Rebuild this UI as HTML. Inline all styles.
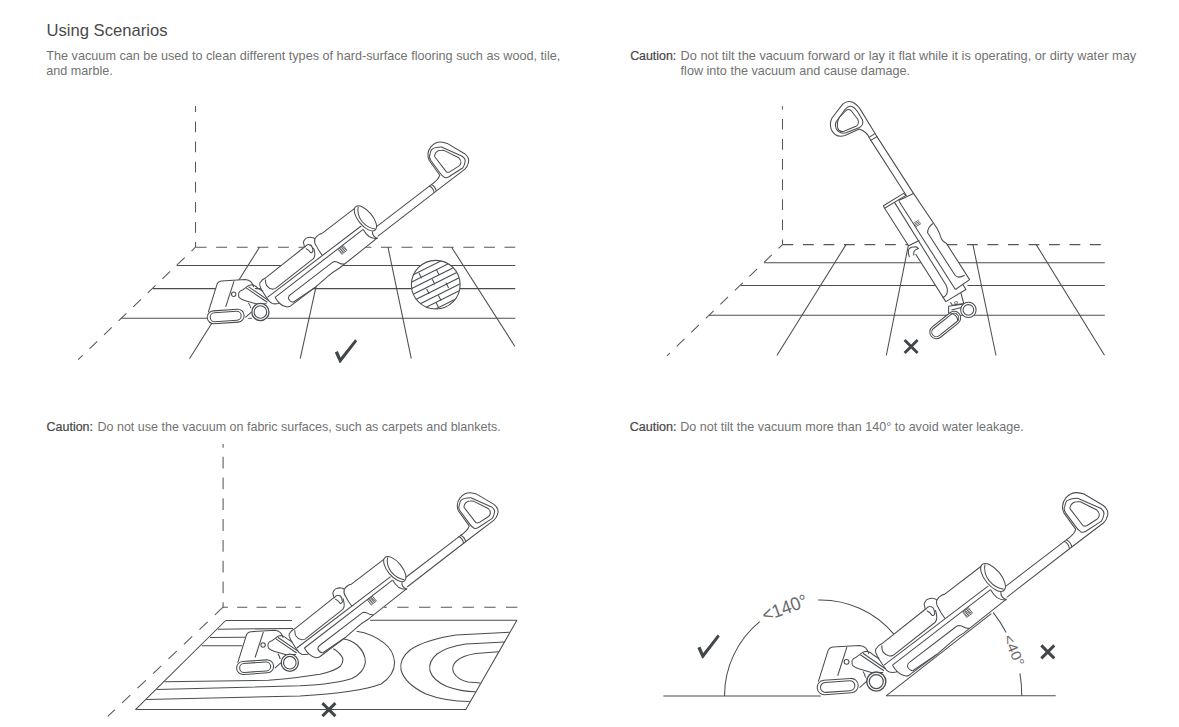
<!DOCTYPE html>
<html><head><meta charset="utf-8"><style>
html,body{margin:0;padding:0;background:#fff;}
svg{display:block;}
text{font-family:"Liberation Sans",sans-serif;}
.t{fill:#4a4a4a;font-size:17px;}
.p{fill:#727272;font-size:12.6px;}
.c{fill:#484848;stroke:#484848;stroke-width:0.22px;font-size:12.5px;}
.a{fill:#6a6a6a;font-size:17px;}
</style></head><body>
<svg width="1179" height="727" viewBox="0 0 1179 727">
<rect width="1179" height="727" fill="#fff"/>
<text class="t" x="46.5" y="36.2" textLength="121" lengthAdjust="spacingAndGlyphs">Using Scenarios</text>
<text class="p" x="46.3" y="59.6" textLength="514" lengthAdjust="spacingAndGlyphs">The vacuum can be used to clean different types of hard-surface flooring such as wood, tile,</text>
<text class="p" x="46.3" y="74.9">and marble.</text>
<text class="c" x="630.2" y="59.6" textLength="46" lengthAdjust="spacingAndGlyphs">Caution:</text>
<text class="p" x="680.6" y="59.6" textLength="455.6" lengthAdjust="spacingAndGlyphs">Do not tilt the vacuum forward or lay it flat while it is operating, or dirty water may</text>
<text class="p" x="680.6" y="74.9" textLength="229.4" lengthAdjust="spacingAndGlyphs">flow into the vacuum and cause damage.</text>
<text class="c" x="46.6" y="431" textLength="46.4" lengthAdjust="spacingAndGlyphs">Caution:</text>
<text class="p" x="97.5" y="431" textLength="403.2" lengthAdjust="spacingAndGlyphs">Do not use the vacuum on fabric surfaces, such as carpets and blankets.</text>
<text class="c" x="629.8" y="431" textLength="46.7" lengthAdjust="spacingAndGlyphs">Caution:</text>
<text class="p" x="680.3" y="431" textLength="343.5" lengthAdjust="spacingAndGlyphs">Do not tilt the vacuum more than 140° to avoid water leakage.</text>
<g fill="none" stroke="#4a4d50" stroke-width="1.05" stroke-linecap="butt" stroke-linejoin="round">
<line x1="195.50" y1="247.20" x2="195.50" y2="106.00" stroke="#55595c" stroke-dasharray="10.7 9.4" stroke-dashoffset="5.6"/>
<line x1="195.50" y1="247.20" x2="515.20" y2="247.20" stroke="#55595c" stroke-dasharray="11 9.6" stroke-dashoffset="0"/>
<line x1="195.50" y1="247.20" x2="78.20" y2="359.60" stroke="#55595c" stroke-dasharray="10.8 9.4" stroke-dashoffset="5.3"/>
<line x1="176.60" y1="265.50" x2="515.20" y2="265.50" />
<line x1="152.90" y1="288.60" x2="515.20" y2="288.60" />
<line x1="121.50" y1="318.30" x2="515.20" y2="318.30" />
<line x1="259.50" y1="247.20" x2="189.50" y2="358.70" />
<line x1="324.70" y1="247.20" x2="300.20" y2="358.70" />
<line x1="388.00" y1="247.20" x2="411.30" y2="358.70" />
<line x1="451.60" y1="247.20" x2="514.90" y2="346.50" />
<circle cx="435.75" cy="284.7" r="24.35" fill="#fff"/>
<clipPath id="bc"><circle cx="435.75" cy="284.7" r="24.35"/></clipPath>
<path clip-path="url(#bc)" d="M400,281.40 L470,246.40 M400,287.89 L470,252.89 M400,294.38 L470,259.38 M400,300.87 L470,265.87 M400,307.36 L470,272.36 M400,313.85 L470,278.85 M400,320.34 L470,285.34 M400,326.83 L470,291.83 M419.00,273.01 L421.60,278.19 M436.50,269.71 L439.10,274.89 M432.30,279.31 L434.90,284.49 M426.60,288.91 L429.20,294.09 M446.00,282.81 L448.60,287.99 M438.50,295.61 L441.10,300.79 M436.20,302.71 L438.80,307.89"/>
<g id="vac">
<path d="M430.7,185.1 Q438.5,180 439.8,175.2 L429.1,160.3 Q426,153 430.7,147.1 Q435,142 440.6,142.1 Q444,142.3 447.2,143.4 L464.6,153.7 Q469.5,157.5 468.5,162.5 Q467.5,167 464.6,169.4 L436.5,190.8 L377.7,236.3 L370,244.6 L289.4,306.3 L286.8,307.1 L282,303.9 L279.8,303.5 L266.9,302 L262,292 L259.8,285.6 L260.5,282.2 L265.3,278.1 L304.5,247 L303.4,242.2 Q306,237.5 312,237.4 L314.8,238.8 L318.9,234.6 L321.7,233.6 L355,208.1 Q360,204 365,207 L376,225 L377,227.3 L430.7,185.1 Z" fill="#fff" stroke="none"/>
<path d="M208.3,312.1 L216.6,285.6 Q217.5,281.5 221.5,281 L245.4,279.5 Q252,280 253.7,287.1 L266.6,303.8 L269.5,312 Q269.5,321.5 260.5,321.2 Q252,321 250.5,316 L244,322.5 Q226,324.5 210,322.5 Q205,318 208.3,312.1 Z" fill="#fff" stroke="none"/>

<!-- handle -->
<path d="M430.7,185.1 Q438.5,180 439.8,175.2 L429.1,160.3 Q426,153 430.7,147.1 Q435,142 440.6,142.1 Q444,142.3 447.2,143.4 L464.6,153.7 Q469.5,157.5 468.5,162.5 Q467.5,167 464.6,169.4 L436.5,190.8"/>
<path d="M431.6,149.6 Q435,147 441.5,147.1 L462.1,156.2 Q466,159 465,162 Q464.5,165.5 462.9,167.7 L448.9,176.8 Q446.5,178.2 444.8,177.6 Q442,176 439.8,172.7 L430.7,160.3 Q428.5,157 429.9,154.5 Q430.5,151 431.6,149.6 Z"/>
<path d="M434.9,154.5 Q436.5,150.4 441,150.3 Q443,150.2 443.9,150.4 L458.8,157.8 Q461.5,160.5 460.9,162.8 Q460.3,165 458.8,166.1 L449.7,171.9 Q448,172.6 446.4,171.9 L434.9,157 Q434.3,155.5 434.9,154.5 Z"/>
<path d="M429.1,185.9 Q433.5,187.5 434.2,193"/>
<path d="M431.2,184.6 Q435.5,186.5 436.3,191.2"/>
<!-- pole -->
<path d="M430.7,185.1 L375.6,227.3"/>
<path d="M436.5,190.8 L377.7,236.3"/>
<!-- tank -->
<path d="M304.5,247 L303.4,242.2 Q305,238 307.2,237.7 Q310,236.8 312,237.4 Q314,237.8 314.8,238.8 Q316.5,236 318.9,234.6 Q320.5,233.6 321.7,233.6 L355,208.1"/>
<path d="M304.5,247.5 Q306.5,244.5 308.6,244.6 Q311.5,244.6 312.3,247.5 Q312.8,250 313,251 Q312,253.2 310.6,252.5 Q308.5,249.5 305.8,248.4"/>
<path d="M314.8,238.8 Q314,243 316.2,245.6 Q318.5,250.5 322.3,255.3"/>
<ellipse cx="365.4" cy="218.4" rx="15.2" ry="7.1" transform="rotate(50.4 365.4 218.4)" fill="#fff"/>
<path d="M358.2,206.6 Q356.5,214 362,221.5 Q367.5,228 375,229"/>
<path d="M372.5,231.5 Q372,236 377.3,238.5"/>
<path d="M363.2,229.4 Q365.5,233.5 369,236.5 Q373,239 377.3,238.5"/>
<!-- body -->
<path d="M259.8,285.6 Q259.5,282.5 260.5,282.2 Q262,279.5 265.3,278.1 L304.5,247"/>
<path d="M265.3,279.5 Q265.5,284 266.7,285.6 Q269,288.7 272.2,289.1 Q274,289.2 275.6,288.4 L313.4,258.7 Q315.2,256 314.8,253.5 Q314.3,249 313.4,247.7"/>
<path d="M267.4,297.3 L361.2,226"/>
<path d="M275,297.3 L363.2,229.4"/>
<path d="M259.8,285.6 Q261,289 263.3,292.5 Q265,295.5 267.4,298.7 Q269.5,302.5 272.2,303.5 Q275,304.2 278.4,303.5 Q278.8,302.8 279.1,302.5"/>
<path d="M275,297.3 Q277,301 279.8,303.5 Q283,306.5 286.8,307.1 Q288.5,307 290,306.3 L315.5,287.1 L327.5,276.7 Q332,272.5 339.5,268 L377.7,237.7"/>
<path d="M293.2,302.3 Q289.5,301.5 288.4,298.3 Q288.5,295.5 290.8,294.3 L331.5,263.2 Q333,261.6 334.7,261.6 Q337,261.7 339.5,263.2 Q341,264.2 344,264"/>
<path d="M293.2,302.3 L315.5,287.1"/>
<!-- grille -->
<g stroke-width="0.75"><path d="M338.30,249.65 L343.37,245.75 M339.18,250.80 L344.25,246.90 M340.06,251.95 L345.14,248.05 M340.95,253.10 L346.02,249.20 M341.83,254.25 L346.90,250.35 M338.11,249.41 L342.01,254.49 M339.80,248.11 L343.70,253.19 M341.50,246.81 L345.40,251.89 M343.19,245.51 L347.09,250.59"/></g>
<!-- head -->
<path d="M208.3,312.1 L216.6,285.6 Q217.5,281.5 221.5,281 L245.4,279.5 Q252,280 253.7,287.1"/>
<path d="M234,281.1 L225.7,306.8"/>
<circle cx="233.7" cy="294.3" r="2.2"/>
<path d="M238.6,293.2 Q238.5,297 239.3,297.7 Q242,300 245.4,300.7 L256,303.8 L266.6,303.8"/>
<path d="M238.6,293.2 Q239.5,291 242.4,290.1 L248.4,285.6 Q250,284.8 252.2,284.8 Q255,285.5 257.5,287.9 L263,291.5"/>
<path d="M246.1,287.9 L267.3,302.3 M248.4,286.6 L268.9,300.7"/>
<path d="M248.4,303 Q250.5,305.5 250.7,308.3"/>
<path d="M245.4,317.4 L251.4,312.1"/>
<rect x="207.2" y="310" width="37" height="13" rx="6.5" transform="rotate(-4 225.7 316.5)" fill="#fff"/>
<rect x="210.2" y="312" width="31" height="9" rx="4.5" transform="rotate(-4 225.7 316.5)"/>
<circle cx="260.4" cy="312.0" r="8.6" fill="#fff" stroke-width="1.3"/>
<circle cx="260.4" cy="312.0" r="6.3" stroke-width="1.1"/>
</g>
<polygon points="334.80,352.60 337.80,351.00 340.60,357.60 355.10,339.20 357.20,341.20 340.40,363.00 339.60,363.00" fill="#40474b" stroke="none"/>
<line x1="782.50" y1="244.60" x2="782.50" y2="106.30" stroke="#55595c" stroke-dasharray="10.7 9.4" stroke-dashoffset="5.6"/>
<line x1="782.50" y1="244.60" x2="1104.80" y2="244.60" stroke="#55595c" stroke-dasharray="10.8 9.7" stroke-dashoffset="0"/>
<line x1="782.50" y1="244.60" x2="666.90" y2="355.90" stroke="#55595c" stroke-dasharray="10.8 9.4" stroke-dashoffset="5.3"/>
<line x1="764.10" y1="262.80" x2="1104.80" y2="262.80" />
<line x1="740.80" y1="285.50" x2="1104.80" y2="285.50" />
<line x1="708.80" y1="315.30" x2="1104.80" y2="315.30" />
<line x1="846.00" y1="244.60" x2="776.90" y2="355.50" />
<line x1="908.50" y1="244.60" x2="886.30" y2="355.50" />
<line x1="972.90" y1="244.60" x2="996.00" y2="355.50" />
<line x1="1036.20" y1="244.60" x2="1104.50" y2="355.30" />

<path d="M869.9,138.9 Q867.5,132 859.3,129 L845,135.5 Q836,138.5 831.5,130 Q829,124 832,118 L842.7,104.1 Q847,100.5 852,102 Q857,104 860.8,110.1 L913.5,193.4 L936.8,228 L969.6,279.6 L965.9,289.5 L945.8,301.6 L915.6,254 L908.5,245.8 L884.6,208.2 L883.4,205.7 L903.6,193.4 Z" fill="#fff" stroke="none"/>
<path d="M946,301.6 L961,292.5 L964,304 L948.6,312 Z" fill="#fff" stroke="none"/>
<path d="M869.9,138.9 Q867.5,132 859.3,129 L845,135.5 Q836,138.5 831.5,130 Q829,124 832,118 L842.7,104.1 Q847,100.5 852,102 Q857,104 860.8,110.1 L876,135.1"/>
<path d="M836,122 L845,109.5 Q848.5,105.5 852,106.5 Q855.5,108 857.8,112 L862.5,120 Q864,125 859.5,127.5 L846,132.8 Q840.5,134.5 837,130 Q834.5,126 836,122 Z"/>
<path d="M839.2,117.5 L846,110.5 Q848.7,108.5 851,110.5 L857.8,119.2 Q859.5,124 856.5,126 L844,131.3 Q839.5,132.5 837.8,128.5 Q836.5,122.5 839.2,117.5 Z"/>
<path d="M869.9,138.9 L906.5,195.8 M876,135.1 L913.5,193.4"/>
<path d="M868.6,137.6 L875.4,133.4 M870.4,140.6 L877.4,136.4"/>
<!-- body -->
<path d="M883.4,205.7 L903.6,193.4 L906,195.4 L884.6,208.2 Z"/>
<path d="M898.6,200.4 L913.5,193.4 L936.8,228 Q940,234 940.6,236.7 Q941.5,240 943.5,241.5 Q945,242.5 946.4,243.4 L969.6,279.6 L955.4,289.5"/>
<path d="M884.6,208.2 L908.5,245.8 L919.4,240.5"/>
<path d="M894.5,202.4 L946,285 Q948.5,290 946.5,294.5 Q945,297 942.5,297.5 M899,201.2 L955.4,289.5"/>
<path stroke-width="0.8" d="M913.56,223.29 L918.79,219.97 M914.31,224.47 L919.54,221.15 M915.06,225.65 L920.29,222.33 M915.81,226.84 L921.04,223.51"/>
<path d="M932.9,223.5 Q927.5,227.5 927.6,232.8 L955.1,275.2 Q958,279 964.7,275.2"/>
<path d="M915.6,254 L945.8,301.6 L965.9,289.5 L962.8,284.3"/>
<path d="M909.5,257 Q907.5,252 908.9,249 Q911,246.8 916,246.8 L918.5,248.5 Q915.5,249.5 914.3,251 Q913.3,253.5 914,255.5"/>
<path d="M950.4,302.2 L952.3,305.3 L963.7,303.5 L960.9,292.9"/>
<path d="M954.5,302.2 l2.6,-0.8 l0.6,2.1 l-2.6,0.8z" stroke-width="0.7"/>
<path d="M948.6,313 L948.6,306.3 L962.1,304.3 L963,309 M951.5,310 L961.5,307.5"/>
<rect x="927.3" y="318.4" width="35.9" height="13.2" rx="6.6" transform="rotate(-38.7 945.25 325)" fill="#fff"/>
<rect x="929.3" y="320.4" width="31.9" height="9.2" rx="4.6" transform="rotate(-38.7 945.25 325)"/>
<path d="M950.5,313.5 Q957,314 958,321"/>
<circle cx="968.4" cy="309.9" r="7.7" fill="#fff"/>
<circle cx="968.4" cy="309.9" r="5.3"/>

<path d="M904.6,340.0 L917.6,353.0 M917.6,340.0 L904.6,353.0" stroke="#40474b" stroke-width="2.9"/>
<line x1="223.10" y1="607.20" x2="223.10" y2="444.00" stroke="#55595c" stroke-dasharray="11.8 9" stroke-dashoffset="6.9"/>
<line x1="222.80" y1="607.20" x2="300.80" y2="607.20" stroke="#55595c" stroke-dasharray="10.2 9.2" stroke-dashoffset="5.1"/>
<line x1="384.00" y1="607.20" x2="517.60" y2="607.20" stroke="#55595c" stroke-dasharray="11.4 10.36" stroke-dashoffset="8.56"/>
<line x1="223.10" y1="607.20" x2="107.80" y2="716.40" stroke="#55595c" stroke-dasharray="11.3 10" stroke-dashoffset="0"/>

<path d="M225.7,620.5 L292,620.5 M370.2,620.3 L516.9,620.3 L465.8,709.4 L135.7,709.4 L225.7,620.5"/>
<path d="M217.8,629.2 L293,628.5"/>
<path d="M210,637.4 L246,637.2"/>
<path d="M201.7,645.8 L242.3,645.8"/>
<path d="M164.5,681.7 L268.5,680.3 Q300,677.5 320,674.2 Q335,671 340.5,666 Q344.5,660 341.9,656.6 Q338,651 333.2,648.8"/>
<path d="M156.7,689.4 L300,685.8 Q336,684 352,678.5 Q364,672.5 365.4,662.4 Q365.5,652.7 357,645 Q351,640 343.9,639"/>
<path d="M146.2,699.6 L300,696 Q358.5,692.5 381,684 Q394.6,675 394.6,662.4 Q393.5,650 383.9,642.9 Q372,633.5 356.6,631.2"/>
<path d="M509.7,632.2 L456.1,635.1 Q426,639.5 410,650 Q399,659 401,670 Q405,684 426,694 Q445,701.4 469.7,701.4"/>
<path d="M504.8,642 L465.8,643.9 Q446,647 437,654 Q428,661.5 430,671 Q433,680.5 447,686.5 Q461,691.7 475.6,691.7"/>
<path d="M499,651.7 L475.6,653.6 Q462,656 456.5,661 Q451,666 453.5,672.5 Q458,680 468,682 L480.5,682.9"/>

<use href="#vac" transform="translate(29.4 350.7)"/>
<path d="M322.4,703.1 L335.4,716.1 M335.4,703.1 L322.4,716.1" stroke="#40474b" stroke-width="2.9"/>
<line x1="663.40" y1="696.00" x2="820.80" y2="696.00" />
<line x1="886.10" y1="695.80" x2="1055.70" y2="695.80" />
<path d="M724.50,696.00 A96,96 0 0 1 759.70,621.71"/>
<path d="M818.15,600.03 A96,96 0 0 1 894.04,634.29"/>
<line x1="886.10" y1="695.80" x2="991.30" y2="613.70" />
<path d="M993.18,612.44 A135.7,135.7 0 0 1 1006.14,632.51"/>
<path d="M1019.94,673.40 A135.7,135.7 0 0 1 1021.80,695.80"/>
<use href="#vac" transform="translate(586.7 334.6) scale(1.112)" stroke-width="0.944"/>
<polygon points="697.40,648.00 700.40,646.40 703.20,653.00 717.70,634.60 719.80,636.60 703.00,658.40 702.20,658.40" fill="#40474b" stroke="none"/>
<path d="M1041.3,645.4 L1054.3,658.4 M1054.3,645.4 L1041.3,658.4" stroke="#40474b" stroke-width="2.9"/>
</g>
<text class="a" transform="translate(764.7 621.8) rotate(-20)" style="font-size:18.6px" textLength="47" lengthAdjust="spacingAndGlyphs">&lt;140°</text>
<text class="a" transform="translate(1003.0 637.0) rotate(67)" style="font-size:14px" textLength="33" lengthAdjust="spacingAndGlyphs">&lt;40°</text>
</svg>
</body></html>
